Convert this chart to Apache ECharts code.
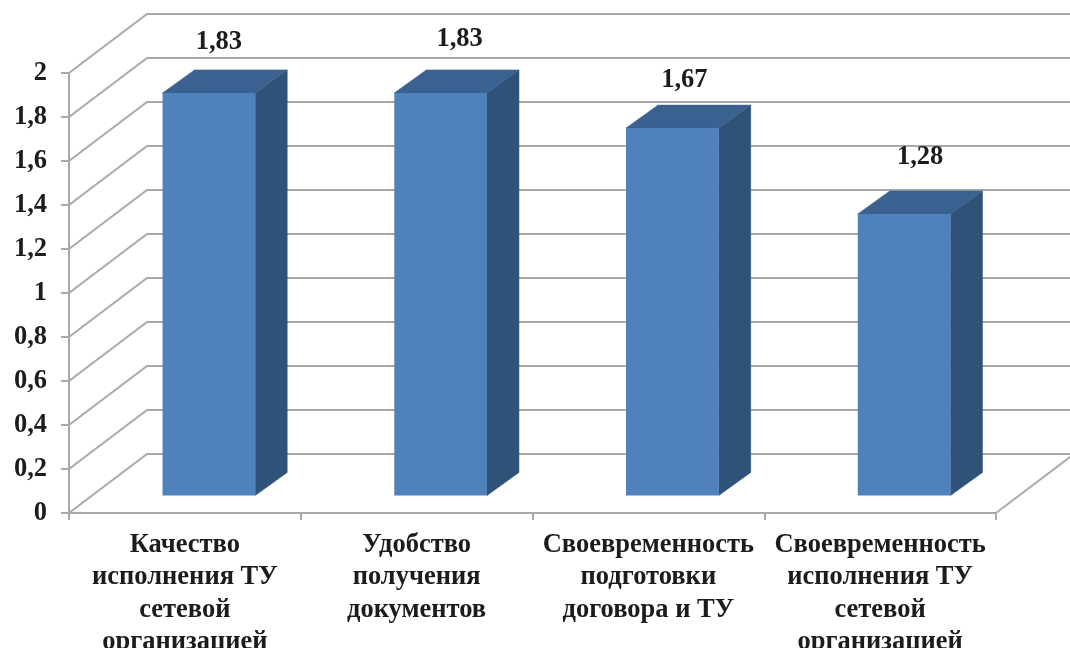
<!DOCTYPE html>
<html><head><meta charset="utf-8">
<style>html,body{margin:0;padding:0;background:#fff}#c{width:1070px;height:648px;filter:blur(0.45px)}</style>
<script src="https://cdn.jsdelivr.net/npm/echarts@6/dist/echarts.min.js"></script>
</head><body><div id="c"></div>
<script>
const categories = ['Качество\nисполнения ТУ\nсетевой\nорганизацией','Удобство\nполучения\nдокументов','Своевременность\nподготовки\nдоговора и ТУ','Своевременность\nисполнения ТУ\nсетевой\nорганизацией'];
const values = [1.83, 1.83, 1.67, 1.28];
const valueLabels = ['1,83','1,83','1,67','1,28'];
const gridValues = [0,0.2,0.4,0.6,0.8,1,1.2,1.4,1.6,1.8,2];

const WALL = [78,-59], BASE = [24,-17.5], DEPTH = [32,-23];
const labelNudge = [[10,-51],[19,-54],[12,-48],[16,-57]];
const GRID = '#a9a9a9';
const FONT = '"Liberation Serif","Times New Roman",serif';
const FS = 26.5;

const chart = echarts.init(document.getElementById('c'), null, {renderer:'canvas'});
chart.setOption({
  animation:false,
  backgroundColor:'#fff',
  grid:{left:69,right:74,top:73,bottom:135,outerBoundsMode:'none'},
  xAxis:{type:'category',data:categories,
    axisLine:{lineStyle:{color:GRID,width:2}},
    axisTick:{show:true,alignWithLabel:false,length:7,lineStyle:{color:GRID,width:2}},
    axisLabel:{interval:0,color:'#1c1c1c',fontFamily:FONT,fontWeight:'bold',fontSize:FS,lineHeight:32.3,margin:16,hideOverlap:false}},
  yAxis:{type:'value',min:0,max:2,interval:0.2,
    axisLine:{show:true,lineStyle:{color:GRID,width:2}},
    axisTick:{show:true,length:8,lineStyle:{color:GRID,width:2}},
    splitLine:{show:false},
    axisLabel:{color:'#1c1c1c',fontFamily:FONT,fontWeight:'bold',fontSize:FS,margin:22,padding:[3,0,0,0],
      formatter:v=>String(+v.toFixed(1)).replace('.',',')}},
  series:[
    {type:'custom',clip:false,silent:true,z:1,data:gridValues,
     encode:{y:0},
     renderItem(p,api){
       const v=api.value(0);
       const band=api.size([1,0])[0];
       const c0=api.coord([0,v]);
       const x0=c0[0]-band/2, x1=x0+band*categories.length, y=c0[1];
       const children=[{type:'polyline',shape:{points:[[x0,y],[x0+WALL[0],y+WALL[1]],[Math.min(1070,x1+WALL[0]),y+WALL[1]]]},
         style:{fill:null,stroke:GRID,lineWidth:2}}];
       if(v===0){children.push({type:'line',shape:{x1:x1,y1:y,x2:x1+WALL[0],y2:y+WALL[1]},style:{stroke:GRID,lineWidth:2}});}
       return {type:'group',children};
     }},
    {type:'custom',clip:false,silent:true,z:3,data:values.map((v,i)=>[i,v]),
     encode:{x:0,y:1},
     renderItem(p,api){
       const i=api.value(0), v=api.value(1);
       const band=api.size([1,0])[0], w=band*0.4;
       const top=api.coord([i,v]), bot=api.coord([i,0]);
       const xl=top[0]-w/2+BASE[0], xr=xl+w, yt=top[1]+BASE[1], yb=bot[1]+BASE[1];
       const dx=DEPTH[0], dy=DEPTH[1];
       return {type:'group',children:[
         {type:'polygon',shape:{points:[[xr,yt],[xr+dx,yt+dy],[xr+dx,yb+dy],[xr,yb]]},style:{fill:'#2f5278',stroke:'#2f5278',lineWidth:0.5}},
         {type:'polygon',shape:{points:[[xl,yt],[xl+dx,yt+dy],[xr+dx,yt+dy],[xr,yt]]},style:{fill:'#3a618f',stroke:'#3a618f',lineWidth:0.5}},
         {type:'rect',shape:{x:xl,y:yt,width:w,height:yb-yt},style:{fill:'#4f81bd'}},
         {type:'text',style:{text:valueLabels[i],x:(xl+xr)/2+labelNudge[i][0],y:yt+labelNudge[i][1],
           fill:'#1c1c1c',font:'bold '+FS+'px '+FONT,textAlign:'center',textVerticalAlign:'middle'}}
       ]};
     }}
  ]
});
</script></body></html>
